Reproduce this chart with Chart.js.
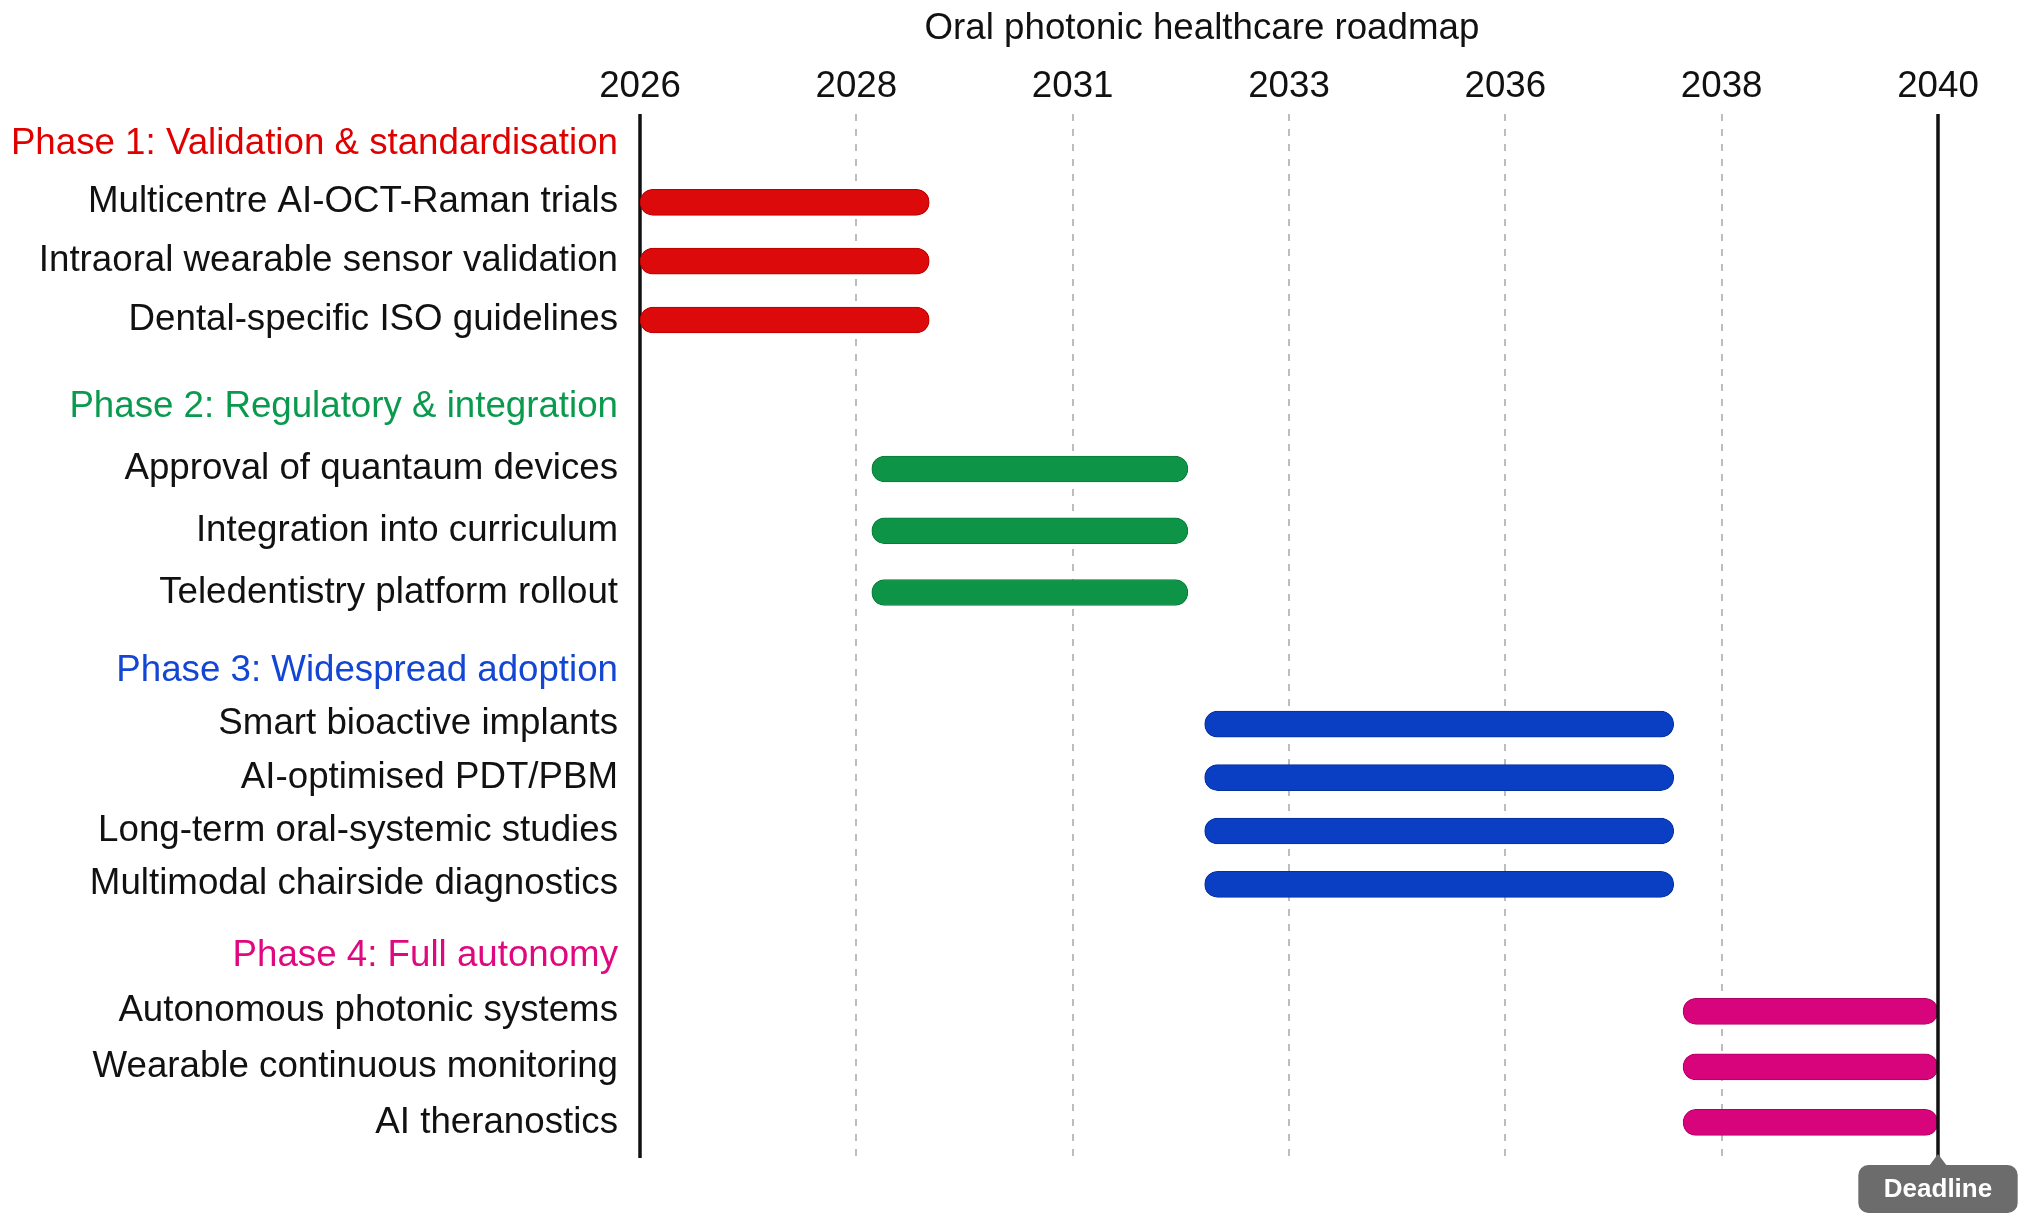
<!DOCTYPE html>
<html>
<head>
<meta charset="utf-8">
<title>Oral photonic healthcare roadmap</title>
<script src="https://cdn.jsdelivr.net/npm/chart.js@4.4.1/dist/chart.umd.min.js"></script>
<style>
	html, body { margin: 0; padding: 0; background: #ffffff; }
	#wrap { width: 2032px; height: 1228px; position: relative; }
</style>
</head>
<body>
<div id="wrap"><canvas id="roadmap"></canvas></div>
<script>
var chartTitle = "Oral photonic healthcare roadmap";
var yearTicks = ["2026", "2028", "2031", "2033", "2036", "2038", "2040"];
var deadlineYear = 2040;
var deadlineLabel = "Deadline";

var phaseTitles = [
	"Phase 1: Validation & standardisation",
	"Phase 2: Regulatory & integration",
	"Phase 3: Widespread adoption",
	"Phase 4: Full autonomy",
];

var phase1Tasks = ["Multicentre AI-OCT-Raman trials", "Intraoral wearable sensor validation", "Dental-specific ISO guidelines"];
var phase2Tasks = ["Approval of quantaum devices", "Integration into curriculum", "Teledentistry platform rollout"];
var phase3Tasks = ["Smart bioactive implants", "AI-optimised PDT/PBM", "Long-term oral-systemic studies", "Multimodal chairside diagnostics"];
var phase4Tasks = ["Autonomous photonic systems", "Wearable continuous monitoring", "AI theranostics"];

// start / end year of every task
var phase1Start = [2026, 2026, 2026];
var phase1End = [2029.12, 2029.12, 2029.12];
var phase2Start = [2028.5, 2028.5, 2028.5];
var phase2End = [2031.91, 2031.91, 2031.91];
var phase3Start = [2032.09, 2032.09, 2032.09, 2032.09];
var phase3End = [2037.15, 2037.15, 2037.15, 2037.15];
var phase4Start = [2037.25, 2037.25, 2037.25];
var phase4End = [2040, 2040, 2040];

document.addEventListener("DOMContentLoaded", function () {
	var barColors = ["#dc0a0a", "#0e9447", "#0a3fc4", "#d8047c"];
	var edgeColors = ["#b80000", "#0a7a3a", "#06309e", "#b00066"];
	var headerColors = ["#e00000", "#0a9a4e", "#1446d4", "#e0087f"];
	// relative heights of the phase bands and the gaps after them
	var bandWeights = [235.6, 247.2, 267.2, 222.4];
	var gapWeights = [27, 20.8, 17, 7.8];
	var labelColumn = 640;

	var phases = [
		{ tasks: phase1Tasks, start: phase1Start, end: phase1End },
		{ tasks: phase2Tasks, start: phase2Start, end: phase2End },
		{ tasks: phase3Tasks, start: phase3Start, end: phase3End },
		{ tasks: phase4Tasks, start: phase4Start, end: phase4End },
	];

	var xMin = Number(yearTicks[0]);
	var xMax = Number(yearTicks[yearTicks.length - 1]);

	Chart.defaults.font.family = '"Liberation Sans", Arial, Helvetica, sans-serif';
	Chart.defaults.font.size = 36.7;
	Chart.defaults.color = "#111111";

	// stacked y axes are capped narrow by the layout, so widen them here
	function fixWidth(axis) {
		axis.width = labelColumn;
	}

	var scales = {
		x: {
			type: "linear",
			position: "top",
			min: xMin,
			max: xMax,
			afterBuildTicks: function (axis) {
				var step = (xMax - xMin) / (yearTicks.length - 1);
				axis.ticks = yearTicks.map(function (t, i) {
					return { value: xMin + i * step };
				});
			},
			ticks: {
				padding: 5,
				autoSkip: false,
				maxRotation: 0,
				color: "#111111",
				callback: function (value, index) {
					return yearTicks[index];
				},
			},
			grid: { color: "#bdbdbd", lineWidth: 2, drawTicks: false },
			border: { display: false, dash: [7, 8] },
		},
	};

	phases.forEach(function (p, k) {
		scales["p" + k] = {
			type: "category",
			axis: "y",
			position: "left",
			stack: "rows",
			stackWeight: bandWeights[k],
			weight: 20 - 2 * k,
			offset: true,
			labels: [phaseTitles[k]].concat(p.tasks),
			afterFit: fixWidth,
			ticks: {
				padding: 22,
				autoSkip: false,
				color: function (c) {
					return c.index === 0 ? headerColors[k] : "#111111";
				},
			},
			grid: { display: false, drawTicks: false },
			border: { display: false },
		};
		scales["g" + k] = {
			type: "category",
			axis: "y",
			position: "left",
			stack: "rows",
			stackWeight: gapWeights[k],
			weight: 19 - 2 * k,
			labels: [""],
			afterFit: fixWidth,
			ticks: { display: false },
			grid: { display: false, drawTicks: false },
			border: { display: false },
		};
	});

	var datasets = phases.map(function (p, k) {
		var spans = p.start.map(function (s, i) {
			return [s, p.end[i]];
		});
		return {
			label: phaseTitles[k],
			xAxisID: "x",
			yAxisID: "p" + k,
			data: [null].concat(spans),
			backgroundColor: barColors[k],
			borderColor: edgeColors[k],
			borderWidth: 1,
			borderSkipped: false,
			borderRadius: 13,
			barThickness: 26,
			grouped: false,
		};
	});

	var titlePlugin = {
		id: "roadmapTitle",
		afterDraw: function (chart) {
			var ctx = chart.ctx;
			ctx.save();
			ctx.font = '36.7px "Liberation Sans", Arial, sans-serif';
			ctx.fillStyle = "#111111";
			ctx.textAlign = "center";
			ctx.textBaseline = "middle";
			ctx.fillText(chartTitle, chart.width * 0.5915, 28.5);
			ctx.restore();
		},
	};

	// one continuous axis line down the whole stack of row axes
	var axisLinePlugin = {
		id: "axisLine",
		beforeDatasetsDraw: function (chart) {
			var ctx = chart.ctx;
			var area = chart.chartArea;
			ctx.save();
			ctx.strokeStyle = "#111111";
			ctx.lineWidth = 3.5;
			ctx.beginPath();
			ctx.moveTo(area.left, area.top);
			ctx.lineTo(area.left, area.bottom);
			ctx.stroke();
			ctx.restore();
		},
	};

	var deadlinePlugin = {
		id: "deadline",
		afterDatasetsDraw: function (chart) {
			var ctx = chart.ctx;
			var area = chart.chartArea;
			var x = chart.scales.x.getPixelForValue(deadlineYear);
			ctx.save();
			ctx.strokeStyle = "#111111";
			ctx.lineWidth = 3.5;
			ctx.beginPath();
			ctx.moveTo(x, area.top);
			ctx.lineTo(x, area.bottom);
			ctx.stroke();

			ctx.font = 'bold 26px "Liberation Sans", Arial, sans-serif';
			var w = ctx.measureText(deadlineLabel).width + 51;
			var h = 48;
			var top = area.bottom + 7;
			ctx.fillStyle = "#6c6c6c";
			ctx.beginPath();
			ctx.roundRect(x - w / 2, top, w, h, 10);
			ctx.fill();
			ctx.beginPath();
			ctx.moveTo(x - 9, top + 1);
			ctx.lineTo(x, top - 11);
			ctx.lineTo(x + 9, top + 1);
			ctx.closePath();
			ctx.fill();
			ctx.fillStyle = "#ffffff";
			ctx.textAlign = "center";
			ctx.textBaseline = "middle";
			ctx.fillText(deadlineLabel, x, top + h / 2 + 1);
			ctx.restore();
		},
	};

	new Chart(document.getElementById("roadmap"), {
		type: "bar",
		data: { datasets: datasets },
		options: {
			indexAxis: "y",
			responsive: true,
			maintainAspectRatio: false,
			animation: false,
			layout: { padding: { top: 60, bottom: 70, left: 0, right: 94 } },
			plugins: {
				legend: { display: false },
				tooltip: { enabled: false },
				title: { display: false },
			},
			scales: scales,
		},
		plugins: [titlePlugin, axisLinePlugin, deadlinePlugin],
	});
});
</script>
</body>
</html>
